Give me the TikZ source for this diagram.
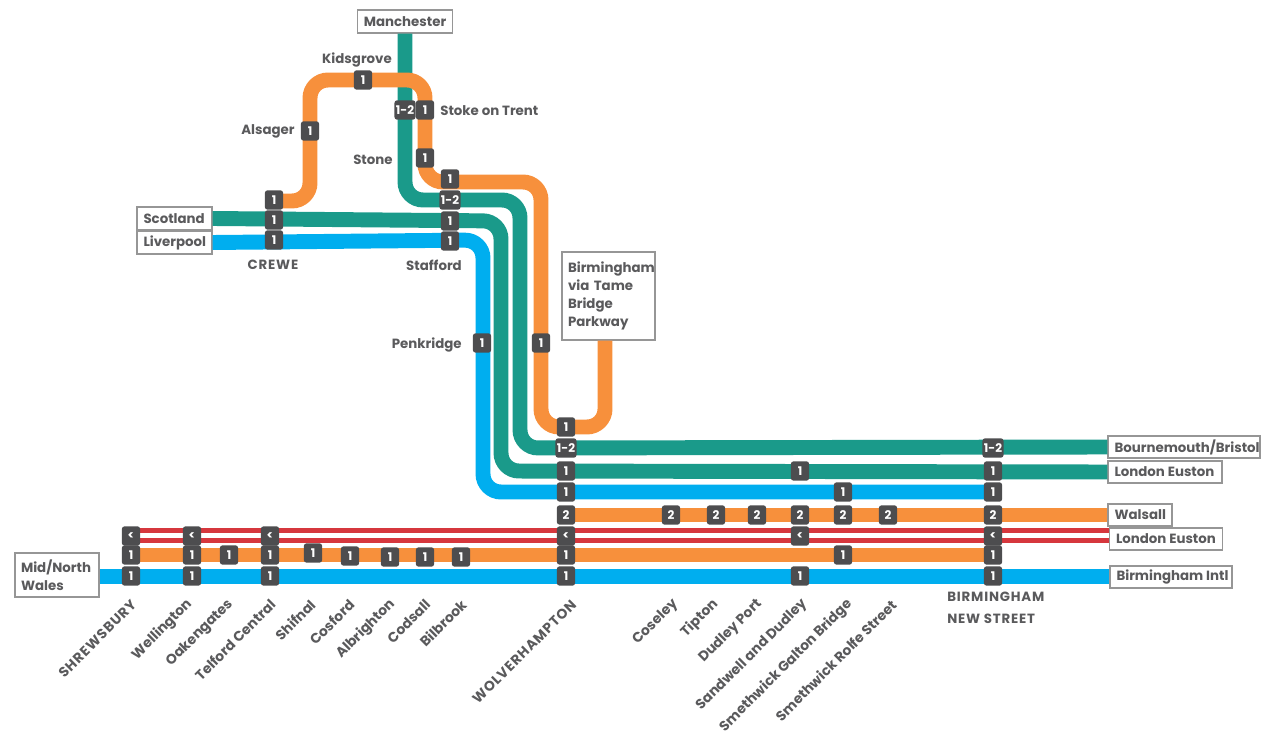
\documentclass[tikz,border=0pt]{standalone}
\usepackage{fontspec}
\setmainfont{Poppins}
\definecolor{railteal}{HTML}{1A9A8A}
\definecolor{railblue}{HTML}{00AEEF}
\definecolor{railorange}{HTML}{F7903C}
\definecolor{railred}{HTML}{D6373D}
\definecolor{boxgray}{HTML}{4D4D4F}
\definecolor{txtgray}{HTML}{5A5A5C}
\definecolor{termgray}{HTML}{969696}
\newcommand{\capsp}{\addfontfeatures{LetterSpace=6}}
\newcommand{\tbox}[2]{\makebox[#1][l]{\hspace{0.13cm}#2}}
\begin{document}
\begin{tikzpicture}[x=0.02cm,y=-0.02cm,
  rail/.style={line width=8.5pt, rounded corners=0.36cm},
  redrail/.style={line width=3pt, railred},
  nb/.style={fill=boxgray, text=white, rounded corners=1.5pt, minimum width=10.4pt, minimum height=11pt, inner sep=0pt, font=\bfseries\fontsize{6.8}{7}\selectfont},
  nbw/.style={nb, minimum width=12pt},
  term/.style={draw=termgray, line width=0.7pt, fill=white, text=txtgray, inner xsep=0pt, inner ysep=0pt, font=\bfseries\fontsize{7.6}{10.2}\selectfont, align=left},
  stn/.style={text=txtgray, inner sep=0pt, font=\bfseries\fontsize{7.6}{8.6}\selectfont},
  rstn/.style={stn, rotate=45, anchor=east, font=\bfseries\fontsize{7.9}{9}\selectfont},
]
\useasboundingbox (0,0) rectangle (1262,736);

% terminal boxes
\node[term, align=center, minimum width=1.9cm, minimum height=0.46cm] (manch) at (405,21.5) {Manchester};
\node[term, minimum height=0.46cm] (scot) at (174.5,218.5) {\tbox{1.5cm}{Scotland}};
\node[term, minimum height=0.46cm] (liv) at (174.5,242.5) {\tbox{1.5cm}{Liverpool}};
\node[term, inner xsep=0.12cm, text width=1.62cm, minimum height=1.76cm] (tame) at (608.5,296) {Birmingham\\via Tame\\Bridge\\Parkway};
\node[term, minimum height=0.44cm] (bourn) at (1184,447) {\tbox{3.04cm}{Bournemouth/Bristol}};
\node[term, minimum height=0.44cm] (leA) at (1165,472) {\tbox{2.28cm}{London Euston}};
\node[term, minimum height=0.44cm] (wals) at (1140,515) {\tbox{1.28cm}{Walsall}};
\node[term, minimum height=0.44cm] (leB) at (1166,539) {\tbox{2.26cm}{London Euston}};
\node[term, minimum height=0.44cm] (bintl) at (1171,577) {\tbox{2.44cm}{Birmingham Intl}};
\node[term, inner xsep=0.12cm, text width=1.44cm, minimum height=0.88cm] (wales) at (57,575) {Mid/North\\Wales};

% named free ends and corners
\coordinate (creweO) at (274,201);
\coordinate (tameX) at (605,0);
\coordinate (wolvO) at (566,515);
\coordinate (bnsB) at (993,492);
\coordinate (bnsO) at (993,555);
\coordinate (shrO) at (131,555);

% rails
\draw[rail, railteal] (manch.south) -- (405,200) -- (520,200) -- (520,448) -- (bourn.west);
\draw[rail, railteal] (scot.east) -- (501,221) -- (501,471) -- (leA.west);
\draw[rail, railblue] (liv.east) -- (483,240) -- (483,492) -- (bnsB);
\draw[rail, railorange] (creweO) -- (310,201) -- (310,80) -- (425,80) -- (425,182) -- (541,182) -- (541,427) -- (605,427) -- (tame.south -| tameX);
\draw[rail, railorange] (wolvO) -- (wals.west);
\draw[redrail] (131,530.5) -- (leB.west |- 0,530.5);
\draw[redrail] (131,540.5) -- (leB.west |- 0,540.5);
\draw[rail, railorange] (shrO) -- (bnsO);
\draw[rail, railblue] (wales.east |- 0,576.5) -- (bintl.west |- 0,576.5);

% number boxes
\foreach \x/\y/\t [count=\i] in {
  274/200/1, 274/220/1, 274/240/1, 310/131/1, 363/80/1, 425/110/1, 425/158/1,
  450/179/1, 450/221/1, 450/241/1, 482/343/1, 541/343/1, 566/427/1,
  566/471/1, 566/492/1, 566/515/2, 566/536/<, 566/555/1, 566/576/1,
  671/515/2, 716/515/2, 757/515/2, 800/515/2, 843/515/2, 888/515/2,
  800/471/1, 843/492/1, 800/536/<, 843/555/1, 800/576/1,
  993/471/1, 993/492/1, 993/515/2, 993/536/<, 993/555/1, 993/576/1,
  131/536/<, 131/555/1, 131/576/1, 192/536/<, 192/555/1, 192/576/1,
  229/555/1, 270/536/<, 270/555/1, 270/576/1, 313/553/1, 350/556/1,
  390/557/1, 425/557/1, 461/557/1}
  \node[nb] (n\i) at (\x,\y) {\t};
\foreach \x/\y [count=\i] in {405/110, 450/200, 566/448, 993/448}
  \node[nbw] (w\i) at (\x,\y) {1-2};

% station labels
\node[stn] (kids) at (357,60) {Kidsgrove};
\node[stn, anchor=east] (alsa) at (295,131) {Alsager};
\node[stn, anchor=west] (stoke) at (440,111) {Stoke on Trent};
\node[stn, anchor=east] (stone) at (393,160) {Stone};
\node[stn] (crewe) at (273,265) {\capsp CREWE};
\node[stn] (staff) at (434,265) {Stafford};
\node[stn, anchor=east] (penk) at (462,345) {Penkridge};
\node[stn, anchor=north west, align=left, font=\bfseries\fontsize{7.6}{12.5}\selectfont] (bns) at (947,592) {\capsp BIRMINGHAM\\\capsp NEW STREET};

\foreach \x/\t [count=\i] in {
  134/{\capsp SHREWSBURY}, 190/Wellington, 231/Oakengates, 273/Telford Central,
  313/Shifnal, 352/Cosford, 393/Albrighton, 428/Codsall, 464/Bilbrook,
  574/{\capsp WOLVERHAMPTON}, 676/Coseley, 716/Tipton, 760/Dudley Port,
  805/Sandwell and Dudley, 850/Smethwick Galton Bridge, 894/Smethwick Rolfe Street}
  \node[rstn] (s\i) at (\x,602) {\t};
\end{tikzpicture}
\end{document}
